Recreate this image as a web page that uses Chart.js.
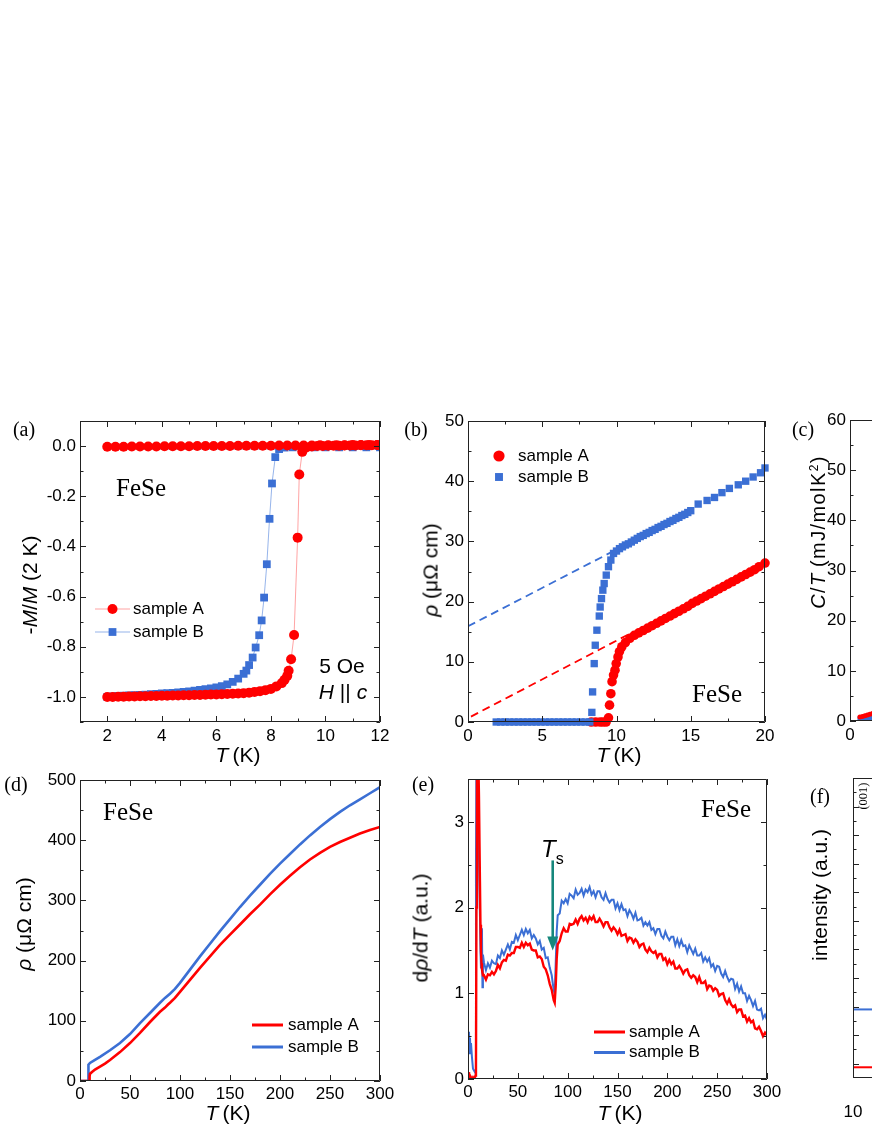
<!DOCTYPE html>
<html>
<head>
<meta charset="utf-8">
<script src="https://cdn.jsdelivr.net/npm/chart.js@4.4.1/dist/chart.umd.min.js"></script>
<style>
  html, body { margin: 0; padding: 0; background: #fff; overflow: hidden; }
  body { width: 872px; height: 1128px; position: relative; }
  canvas { position: absolute; left: 0; top: 0; }
  .t { position: absolute; transform: translate(-50%, -50%); white-space: nowrap; line-height: 1; color: #000;
       font-family: 'Liberation Sans', Arial, sans-serif; font-size: 21px; }
  .serif { font-family: 'Liberation Serif', 'Times New Roman', serif; }
  .rot { transform: translate(-50%, -50%) rotate(-90deg); }
</style>
</head>
<body>
<canvas id="chartA" width="872" height="1128"></canvas>
<canvas id="chartB" width="872" height="1128"></canvas>
<canvas id="chartC" width="1200" height="1128"></canvas>
<canvas id="chartD" width="872" height="1128"></canvas>
<canvas id="chartE" width="872" height="1128"></canvas>
<canvas id="chartF" width="1200" height="1128"></canvas>

<!-- panel labels -->
<div class="t serif" style="left:24px;top:429px;font-size:20px">(a)</div>
<div class="t serif" style="left:416px;top:429px;font-size:20px">(b)</div>
<div class="t serif" style="left:803px;top:429px;font-size:20px">(c)</div>
<div class="t serif" style="left:16px;top:784px;font-size:20px">(d)</div>
<div class="t serif" style="left:423px;top:784px;font-size:20px">(e)</div>
<div class="t serif" style="left:820px;top:796px;font-size:20px">(f)</div>

<!-- annotations -->
<div class="t serif" style="left:141px;top:487px;font-size:25px">FeSe</div>
<div class="t serif" style="left:717px;top:693px;font-size:25px">FeSe</div>
<div class="t serif" style="left:128px;top:811px;font-size:25px">FeSe</div>
<div class="t serif" style="left:726px;top:808px;font-size:25px">FeSe</div>
<div class="t" style="left:342px;top:665px">5 Oe</div>
<div class="t" style="left:343px;top:691px"><i>H</i> || <i>c</i></div>
<div style="position:absolute;left:541px;top:837px;line-height:1;white-space:nowrap;font-family:'Liberation Sans',Arial,sans-serif"><span style="font-style:italic;font-size:24px">T</span><span style="font-size:16px;position:relative;top:7px">s</span></div>
<div class="t serif rot" style="left:863px;top:796px;font-size:12.5px">(001)</div>

<!-- axis titles -->
<div class="t" style="left:238px;top:754px"><i>T</i>&thinsp;(K)</div>
<div class="t" style="left:619px;top:754px"><i>T</i>&thinsp;(K)</div>
<div class="t" style="left:228px;top:1112px"><i>T</i>&thinsp;(K)</div>
<div class="t" style="left:620px;top:1112px"><i>T</i>&thinsp;(K)</div>
<div class="t rot" style="left:29px;top:585px">-<i>M</i>/<i>M</i> (2 K)</div>
<div class="t rot" style="left:430px;top:570px"><i>ρ</i> (μΩ cm)</div>
<div class="t rot" style="left:818px;top:532px;font-size:20px;letter-spacing:1.4px"><i>C</i>/<i>T</i>&thinsp;(mJ/molK<sup style="font-size:12px">2</sup>)</div>
<div class="t rot" style="left:23px;top:924px"><i>ρ</i> (μΩ cm)</div>
<div class="t rot" style="left:420px;top:928px">d<i>ρ</i>/d<i>T</i> (a.u.)</div>
<div class="t rot" style="left:819px;top:895px">intensity (a.u.)</div>

<script>
// ---------- data ----------
const RED = '#ff0000';
const BLUE = '#3b6fd4';

// (a) normalized magnetization
const aTempAlow = [2.0, 2.2, 2.4, 2.6, 2.8, 3.0, 3.2, 3.4, 3.6, 3.8, 4.0, 4.2, 4.4, 4.6, 4.8, 5.0, 5.2, 5.4, 5.6, 5.8,
  6.0, 6.2, 6.4, 6.6, 6.8, 7.0, 7.2, 7.4, 7.6, 7.8, 8.0, 8.2, 8.4, 8.5, 8.6, 8.65, 8.74, 8.85, 8.98, 9.04, 9.15, 9.3,
  9.5, 9.7, 9.9, 10.1, 10.3, 10.5, 10.7, 10.9, 11.1, 11.3, 11.5, 11.7, 11.9];
const aMagAlow = [-1.000, -1.000, -0.999, -0.999, -0.998, -0.998, -0.997, -0.997, -0.996, -0.996, -0.995, -0.995, -0.994,
  -0.994, -0.993, -0.993, -0.992, -0.992, -0.991, -0.990, -0.990, -0.989, -0.988, -0.987, -0.986, -0.985, -0.983, -0.980,
  -0.977, -0.973, -0.968, -0.958, -0.945, -0.932, -0.916, -0.896, -0.850, -0.753, -0.365, -0.113, -0.023, -0.006,
  -0.002, 0.000, 0.000, 0.001, 0.001, 0.001, 0.002, 0.002, 0.002, 0.003, 0.003, 0.003, 0.004];
const aTempAup = [2.0, 2.3, 2.6, 2.9, 3.2, 3.5, 3.8, 4.1, 4.4, 4.7, 5.0, 5.3, 5.6, 5.9, 6.2, 6.5, 6.8, 7.1, 7.4, 7.7,
  8.0, 8.3, 8.6, 8.9, 9.2, 9.5, 9.8, 10.1, 10.4, 10.7, 11.0, 11.3, 11.6, 11.9];
const aMagAup = [-0.003, -0.003, -0.003, -0.002, -0.002, -0.002, -0.002, -0.001, -0.001, -0.001, -0.001, 0.000, 0.000,
  0.000, 0.000, 0.000, 0.001, 0.001, 0.001, 0.001, 0.001, 0.002, 0.002, 0.002, 0.002, 0.002, 0.003, 0.003, 0.003,
  0.003, 0.004, 0.004, 0.004, 0.004];
const aTempBlow = [2.0, 2.2, 2.4, 2.6, 2.8, 3.0, 3.2, 3.4, 3.6, 3.8, 4.0, 4.2, 4.4, 4.6, 4.8, 5.0, 5.2, 5.4, 5.6, 5.8,
  6.0, 6.2, 6.4, 6.6, 6.8, 7.0, 7.1, 7.2, 7.33, 7.44, 7.57, 7.66, 7.75, 7.85, 7.95, 8.04, 8.16, 8.3, 8.5, 8.8, 9.2,
  9.6, 10.0, 10.5, 11.0, 11.5, 12.0];
const aMagBlow = [-1.000, -0.998, -0.996, -0.995, -0.994, -0.993, -0.992, -0.991, -0.989, -0.988, -0.986, -0.985, -0.984,
  -0.982, -0.980, -0.978, -0.975, -0.972, -0.969, -0.966, -0.962, -0.957, -0.950, -0.940, -0.927, -0.908, -0.895,
  -0.873, -0.843, -0.803, -0.754, -0.695, -0.604, -0.471, -0.290, -0.149, -0.044, -0.012, -0.006, -0.005, -0.005,
  -0.005, -0.005, -0.005, -0.005, -0.005, -0.005];
const aTempBup = [2.0, 3.0, 4.0, 5.0, 6.0, 7.0, 8.0, 9.0, 10.0, 11.0, 12.0];
const aMagBup = [-0.012, -0.012, -0.012, -0.012, -0.012, -0.012, -0.012, -0.012, -0.012, -0.012, -0.012];
const aXTicks = [2, 4, 6, 8, 10, 12];
const aXMinor = [1, 3, 5, 7, 9, 11];
const aYTicks = [-1.0, -0.8, -0.6, -0.4, -0.2, 0.0];
const aYMinor = [-1.1, -0.9, -0.7, -0.5, -0.3, -0.1, 0.1];

// (b) low-temperature resistivity
const bTempA = [8.3, 8.6, 8.9, 9.1, 9.3,
  9.46, 9.53, 9.62, 9.7, 9.8, 9.9, 9.98, 10.1, 10.2, 10.36, 10.6, 10.9,
  11.2, 11.5, 11.8, 12.1, 12.4, 12.7, 13.0, 13.3, 13.6, 13.9, 14.2, 14.5, 14.8, 15.1, 15.4, 15.7, 16.0, 16.3, 16.6,
  16.9, 17.2, 17.5, 17.8, 18.1, 18.4, 18.7, 19.0, 19.3, 19.6, 20.0];
const bRhoA = [0, 0, 0, 0, 0,
  0.7, 2.8, 4.7, 6.7, 7.8, 8.6, 9.7, 10.8, 11.7, 12.5, 13.2, 13.9,
  14.4, 14.8, 15.2, 15.6, 16.0, 16.4, 16.8, 17.2, 17.6, 18.0, 18.4, 18.8, 19.2, 19.7, 20.1, 20.5, 20.9, 21.3, 21.7,
  22.1, 22.5, 22.9, 23.3, 23.7, 24.1, 24.5, 24.9, 25.3, 25.8, 26.4];
const bTempB = [1.9, 2.2, 2.5, 2.8, 3.1, 3.4, 3.7, 4.0, 4.3, 4.6, 4.9, 5.2, 5.5, 5.8, 6.1, 6.4, 6.7, 7.0, 7.3, 7.6, 7.9, 8.2,
  8.34, 8.39, 8.5, 8.57, 8.68, 8.84, 8.9, 8.99, 9.08, 9.17, 9.31, 9.46, 9.62,
  9.8, 10.0, 10.2, 10.4, 10.6, 10.8, 11.0, 11.2, 11.4, 11.6, 11.8, 12.0, 12.2, 12.4, 12.6, 12.8, 13.0, 13.2, 13.4,
  13.6, 13.8, 14.0, 14.2, 14.4, 14.6, 14.8, 15.0,
  15.5, 16.1, 16.6, 17.1, 17.6, 18.2, 18.7, 19.2, 19.7, 20.0];
const bRhoB = [0, 0, 0, 0, 0, 0, 0, 0, 0, 0, 0, 0, 0, 0, 0, 0, 0, 0, 0, 0, 0, 0,
  1.6, 5.0, 9.7, 12.75, 15.25, 17.6, 19.1, 20.5, 21.9, 23.0, 24.4, 25.8, 26.9,
  28.0, 28.4, 28.8, 29.1, 29.4, 29.6, 29.9, 30.2, 30.5, 30.8, 31.0, 31.3, 31.5, 31.8, 32.0, 32.3, 32.5, 32.8, 33.0,
  33.3, 33.5, 33.8, 34.0, 34.3, 34.5, 34.8, 35.1,
  36.2, 36.8, 37.3, 38.1, 38.8, 39.4, 40.0, 40.7, 41.4, 42.2];
const bFitTempA = [0.2, 11.0];
const bFitRhoA = [0.9, 14.8];
const bFitTempB = [0.0, 9.8];
const bFitRhoB = [15.9, 28.4];
const bXTicks = [0, 5, 10, 15, 20];
const bXMinor = [2.5, 7.5, 12.5, 17.5];
const bYTicks = [0, 10, 20, 30, 40, 50];
const bYMinor = [5, 15, 25, 35, 45];

// (c) specific heat (only the low-T corner is visible)
const cTemp = [0.4, 0.5, 0.6, 0.7, 0.8, 0.9, 1.0, 1.2, 1.4];
const cHeatA = [0.8, 0.9, 1.05, 1.2, 1.35, 1.5, 1.65, 1.95, 2.3];
const cHeatB = [0.4, 0.45, 0.5, 0.6, 0.65, 0.75, 0.85, 1.0, 1.2];
const cXTicks = [0, 2, 4, 6, 8, 10, 12];
const cYTicks = [0, 10, 20, 30, 40, 50, 60];
const cYMinor = [5, 15, 25, 35, 45, 55];

// (d) resistivity up to 300 K
const dTempA = [0, 9.3, 9.6, 10, 12, 15, 20, 25, 30, 40, 50, 60, 70, 80, 85, 88, 90, 95, 100, 110, 120, 130, 140, 150,
  160, 170, 180, 190, 200, 210, 220, 230, 240, 250, 260, 270, 280, 290, 300];
const dRhoA = [0, 0, 8, 12, 15, 19, 24, 29, 35, 48, 63, 80, 98, 115, 122, 127, 130, 138, 148, 168, 188, 207, 226, 243,
  260, 277, 293, 310, 326, 341, 355, 368, 379, 389, 397, 404, 411, 417, 422];
const dTempB = [0, 8, 8.3, 8.6, 10, 15, 20, 30, 40, 50, 60, 70, 80, 85, 90, 95, 100, 110, 120, 130, 140, 150, 160, 170,
  180, 190, 200, 210, 220, 230, 240, 250, 260, 270, 280, 290, 300];
const dRhoB = [0, 0, 15, 27, 30, 35, 40, 51, 63, 78, 96, 113, 130, 138, 145, 153, 163, 185, 207, 228, 249, 269, 289, 308,
  326, 344, 361, 377, 393, 408, 422, 435, 447, 458, 468, 478, 488];
const dXTicks = [0, 50, 100, 150, 200, 250, 300];
const dXMinor = [25, 75, 125, 175, 225, 275];
const dYTicks = [0, 100, 200, 300, 400, 500];
const dYMinor = [50, 150, 250, 350, 450];

// (e) derivative drho/dT
const eLowTemp = [0.5, 1, 1.5, 2, 2.5, 3, 4, 5, 6, 7, 7.5, 8, 8.5, 9, 10, 11, 12, 12.5, 13, 13.5, 14, 14.5, 15];
const eLowA = [0.00, 0.08, 0.00, 0.03, 0.00, 0.02, 0.00, 0.02, 0.00, 0.02, 0.04, 0.10, 2.00, 4.00, 4.00, 3.30, 2.30,
  1.80, 1.50, 1.35, 1.28, 1.24, 1.21];
const eLowB = [0.30, 0.55, 0.35, 0.48, 0.30, 0.42, 0.25, 0.12, 0.10, 0.08, 0.10, 2.50, 4.00, 4.00, 3.50, 2.60, 1.90,
  1.50, 1.30, 1.30, 1.76, 1.07, 1.45];
const eTemp = [16, 18, 20, 22, 24, 26, 28, 30, 32, 34, 36, 38, 40, 42, 44, 46, 48, 50, 52, 54, 56, 58, 60, 62, 64, 66,
  68, 70, 72, 74, 76, 78, 80, 82, 84, 85, 86, 87, 88, 89, 90, 92, 94, 96, 98, 100, 102, 104, 106, 108, 110, 112, 114,
  116, 118, 120, 122, 124, 126, 128, 130, 132, 134, 136, 138, 140, 142, 144, 146, 148, 150, 152, 154, 156, 158, 160,
  162, 164, 166, 168, 170, 172, 174, 176, 178, 180, 182, 184, 186, 188, 190, 192, 194, 196, 198, 200, 202, 204, 206,
  208, 210, 212, 214, 216, 218, 220, 222, 224, 226, 228, 230, 232, 234, 236, 238, 240, 242, 244, 246, 248, 250, 252,
  254, 256, 258, 260, 262, 264, 266, 268, 270, 272, 274, 276, 278, 280, 282, 284, 286, 288, 290, 292, 294, 296, 298, 300];
const eDerivA = [1.21, 1.16, 1.22, 1.21, 1.25, 1.22, 1.26, 1.33, 1.29, 1.36, 1.39, 1.38, 1.45, 1.44, 1.47, 1.47, 1.54,
  1.54, 1.53, 1.59, 1.54, 1.59, 1.56, 1.58, 1.51, 1.50, 1.50, 1.42, 1.43, 1.40, 1.31, 1.28, 1.21, 1.11, 1.04,
  0.98, 0.92, 0.89, 1.08, 1.40,
  1.57, 1.61, 1.70, 1.76, 1.72, 1.72, 1.81, 1.80, 1.81, 1.86, 1.81, 1.87, 1.90, 1.85, 1.88, 1.83, 1.89, 1.86, 1.90,
  1.83, 1.83, 1.87, 1.83, 1.78, 1.83, 1.83, 1.77, 1.73, 1.77, 1.74, 1.69, 1.74, 1.67, 1.68, 1.69, 1.61, 1.65, 1.64,
  1.59, 1.63, 1.60, 1.54, 1.57, 1.58, 1.51, 1.48, 1.53, 1.49, 1.47, 1.49, 1.42, 1.46, 1.46, 1.39, 1.41, 1.34, 1.39,
  1.34, 1.37, 1.29, 1.29, 1.32, 1.28, 1.23, 1.27, 1.28, 1.21, 1.18, 1.21, 1.19, 1.13, 1.19, 1.12, 1.12, 1.14, 1.05,
  1.09, 1.08, 1.03, 1.06, 1.04, 0.97, 0.99, 1.00, 0.92, 0.88, 0.93, 0.87, 0.84, 0.86, 0.78, 0.81, 0.81, 0.73, 0.74,
  0.67, 0.71, 0.66, 0.68, 0.59, 0.58, 0.61, 0.56, 0.50, 0.54, 0.51];
const eDerivB = [1.36, 1.27, 1.35, 1.30, 1.38, 1.35, 1.34, 1.44, 1.41, 1.50, 1.45, 1.51, 1.57, 1.51, 1.60, 1.59, 1.68,
  1.62, 1.68, 1.74, 1.68, 1.75, 1.70, 1.74, 1.64, 1.68, 1.64, 1.57, 1.61, 1.51, 1.53, 1.41, 1.42, 1.30, 1.21,
  1.12, 1.04, 0.99, 1.35, 1.72,
  1.91, 1.93, 2.08, 2.05, 2.10, 2.05, 2.16, 2.14, 2.11, 2.21, 2.15, 2.17, 2.22, 2.14, 2.21, 2.18, 2.24, 2.15, 2.19,
  2.12, 2.19, 2.19, 2.12, 2.09, 2.17, 2.10, 2.06, 2.09, 2.09, 1.99, 2.05, 1.97, 2.04, 1.97, 1.98, 1.90, 1.97, 1.93,
  1.87, 1.94, 1.85, 1.86, 1.88, 1.79, 1.83, 1.79, 1.83, 1.74, 1.76, 1.69, 1.75, 1.75, 1.67, 1.64, 1.72, 1.66, 1.62,
  1.66, 1.66, 1.56, 1.63, 1.55, 1.62, 1.55, 1.56, 1.48, 1.56, 1.51, 1.46, 1.52, 1.44, 1.44, 1.47, 1.37, 1.42, 1.37,
  1.41, 1.31, 1.34, 1.26, 1.32, 1.31, 1.23, 1.19, 1.26, 1.19, 1.14, 1.17, 1.16, 1.05, 1.11, 1.02, 1.08, 1.00, 1.00,
  0.91, 0.97, 0.92, 0.85, 0.91, 0.81, 0.80, 0.82, 0.71, 0.75, 0.69];
const eYTicks = [0, 1, 2, 3];
const eYMinor = [0.5, 1.5, 2.5];
const tsArrow = { t: 85, from: 2.55, to: 1.5 };

// (f) x-ray diffraction (only the left edge is visible)
const fAngle = [10, 12, 14];
const fIntA = [0.75, 0.75, 0.75];
const fIntB = [4.8, 4.8, 4.8];
const fXTicks = [10, 20, 30, 40, 50, 60, 70];
const fYMajor = [1, 3, 5, 7, 9, 11, 13, 15, 17, 19];
const fYMinor = [2, 4, 6, 8, 10, 12, 14, 16, 18, 20];

// ---------- helpers ----------
Chart.defaults.font.family = "'Liberation Sans', Arial, sans-serif";
Chart.defaults.font.size = 17;
Chart.defaults.color = '#000';

const pts = (xs, ys) => xs.map((x, i) => ({ x, y: ys[i] }));

// box frame with inward ticks on all four sides
const frameTicks = {
  id: 'frameTicks',
  afterDatasetsDraw(chart, args, o) {
    if (!o || !o.show) return;
    const { ctx, chartArea: a, scales: { x, y } } = chart;
    ctx.save();
    ctx.strokeStyle = '#222';
    ctx.lineWidth = 1;
    ctx.beginPath();
    ctx.rect(a.left + 0.5, a.top + 0.5, a.right - a.left - 1, a.bottom - a.top - 1);
    const mark = (vals, len, horiz) => (vals || []).forEach(v => {
      if (horiz) {
        const px = Math.round(x.getPixelForValue(v)) + 0.5;
        ctx.moveTo(px, a.bottom); ctx.lineTo(px, a.bottom - len);
        ctx.moveTo(px, a.top); ctx.lineTo(px, a.top + len);
      } else {
        const py = Math.round(y.getPixelForValue(v)) + 0.5;
        ctx.moveTo(a.left, py); ctx.lineTo(a.left + len, py);
        ctx.moveTo(a.right, py); ctx.lineTo(a.right - len, py);
      }
    });
    mark(o.xMajor, 6, true);
    mark(o.xMinor, 3.5, true);
    mark(o.yMajor, 6, false);
    mark(o.yMinor, 3.5, false);
    ctx.stroke();
    ctx.restore();
  }
};

function marker(ctx, style, r, cx, cy) {
  ctx.beginPath();
  if (style === 'rect') {
    const s = r * Math.SQRT1_2;
    ctx.rect(cx - s, cy - s, 2 * s, 2 * s);
  } else {
    ctx.arc(cx, cy, r, 0, Math.PI * 2);
  }
  ctx.fill();
}

// hand-placed legend
const keyBox = {
  id: 'keyBox',
  afterDraw(chart, args, o) {
    if (!o || !o.items) return;
    const ctx = chart.ctx;
    ctx.save();
    o.items.forEach((it, i) => {
      const ds = chart.data.datasets[it.ds];
      const yy = o.y + i * o.rowH;
      if (o.line) {
        ctx.strokeStyle = ds.borderColor;
        ctx.lineWidth = o.lineWidth || ds.borderWidth;
        ctx.beginPath(); ctx.moveTo(o.x, yy); ctx.lineTo(o.x + o.len, yy); ctx.stroke();
      }
      if (o.marker) {
        ctx.fillStyle = ds.pointBackgroundColor;
        marker(ctx, ds.pointStyle, o.markerR || ds.pointRadius, o.x + o.len / 2, yy);
      }
      ctx.fillStyle = '#000';
      ctx.font = "17px 'Liberation Sans', Arial, sans-serif";
      ctx.textBaseline = 'middle';
      ctx.textAlign = 'left';
      ctx.fillText(it.label, o.x + o.len + o.gap, yy);
    });
    ctx.restore();
  }
};

Chart.register(frameTicks, keyBox);

function axis(min, max, labels, opts) {
  opts = opts || {};
  return {
    type: opts.type || 'linear', min, max,
    grid: { display: false, drawTicks: false },
    border: { display: false },
    afterBuildTicks: s => { s.ticks = labels.map(v => ({ value: v })); },
    afterFit: s => { if (opts.horiz) s.height = opts.size; else s.width = opts.size; },
    ticks: {
      display: opts.show !== false, padding: opts.pad, autoSkip: false, maxRotation: 0,
      callback: opts.fmt || (v => String(v))
    }
  };
}

function makeChart(id, box, datasets, scales, frame, key, extra) {
  const cv = document.getElementById(id);
  return new Chart(cv, {
    type: 'scatter',
    data: { datasets },
    options: {
      responsive: false, animation: false, devicePixelRatio: 1,
      layout: { padding: { left: box.left - box.yw, top: box.top, right: cv.width - box.right, bottom: cv.height - box.bottom - box.xh } },
      plugins: { legend: { display: false }, tooltip: { enabled: false }, frameTicks: Object.assign({ show: true }, frame), keyBox: key || {} },
      scales
    },
    plugins: extra || []
  });
}

function dots(data, color, style, r, line, clip) {
  return {
    data, showLine: !!line, borderColor: line || color, borderWidth: 1,
    pointStyle: style, pointRadius: r, pointBackgroundColor: color, pointBorderWidth: 0, pointBorderColor: color,
    clip: clip
  };
}
function curve(data, color, w, clip) {
  return { data, showLine: true, borderColor: color, borderWidth: w, pointRadius: 0, clip: clip };
}

// ---------- (a) ----------
makeChart('chartA', { left: 80, right: 380, top: 421, bottom: 722, yw: 60, xh: 30 }, [
  dots(pts(aTempAlow, aMagAlow), RED, 'circle', 5, 'rgba(255,90,90,0.55)'),
  dots(pts(aTempAup, aMagAup), RED, 'circle', 5, 'rgba(255,90,90,0.55)'),
  dots(pts(aTempBlow, aMagBlow), BLUE, 'rect', 5.5, 'rgba(80,130,220,0.6)'),
  curve(pts(aTempBup, aMagBup), 'rgba(80,130,220,0.7)', 1)
], {
  x: axis(1, 12, aXTicks, { horiz: true, size: 30, pad: 4 }),
  y: axis(-1.1, 0.1, aYTicks, { size: 60, pad: 4, fmt: v => v.toFixed(1) })
}, { xMajor: aXTicks, xMinor: aXMinor, yMajor: aYTicks, yMinor: aYMinor },
{ x: 95, y: 609, rowH: 23, len: 35, gap: 3, line: true, marker: true, lineWidth: 1.2,
  items: [{ ds: 0, label: 'sample A' }, { ds: 2, label: 'sample B' }] });

// ---------- (b) ----------
makeChart('chartB', { left: 468, right: 765, top: 421, bottom: 722, yw: 50, xh: 30 }, [
  dots(pts(bTempB, bRhoB), BLUE, 'rect', 5.2, null, false),
  dots(pts(bTempA, bRhoA), RED, 'circle', 4.8, null, false),
  Object.assign(curve(pts(bFitTempB, bFitRhoB), BLUE, 1.8), { borderDash: [8, 5] }),
  Object.assign(curve(pts(bFitTempA, bFitRhoA), RED, 1.8), { borderDash: [8, 5] })
], {
  x: axis(0, 20, bXTicks, { horiz: true, size: 30, pad: 4 }),
  y: axis(0, 50, bYTicks, { size: 50, pad: 4 })
}, { xMajor: bXTicks, xMinor: bXMinor, yMajor: bYTicks, yMinor: bYMinor },
{ x: 489, y: 456, rowH: 21, len: 20, gap: 9, line: false, marker: true, markerR: 5.6,
  items: [{ ds: 1, label: 'sample A' }, { ds: 0, label: 'sample B' }] });

// ---------- (c) ----------
makeChart('chartC', { left: 850, right: 1148, top: 420, bottom: 721, yw: 50, xh: 30 }, [
  dots(pts(cTemp, cHeatA), RED, 'circle', 2.5),
  dots(pts(cTemp, cHeatB), BLUE, 'rect', 3.5)
], {
  x: axis(0, 12, cXTicks, { horiz: true, size: 30, pad: 4 }),
  y: axis(0, 60, cYTicks, { size: 50, pad: 4 })
}, { xMajor: cXTicks, yMajor: cYTicks, yMinor: cYMinor });

// ---------- (d) ----------
makeChart('chartD', { left: 80, right: 380, top: 780, bottom: 1081, yw: 60, xh: 30 }, [
  curve(pts(dTempA, dRhoA), RED, 2.6),
  curve(pts(dTempB, dRhoB), BLUE, 2.6)
], {
  x: axis(0, 300, dXTicks, { horiz: true, size: 30, pad: 3 }),
  y: axis(0, 500, dYTicks, { size: 60, pad: 4 })
}, { xMajor: dXTicks, xMinor: dXMinor, yMajor: dYTicks, yMinor: dYMinor },
{ x: 252, y: 1025, rowH: 22, len: 31, gap: 5, line: true, lineWidth: 3,
  items: [{ ds: 0, label: 'sample A' }, { ds: 1, label: 'sample B' }] });

// ---------- (e) ----------
const arrowPlugin = {
  id: 'tsArrow',
  afterDatasetsDraw(chart) {
    const { ctx, scales: { x, y } } = chart;
    const px = x.getPixelForValue(tsArrow.t);
    const y0 = y.getPixelForValue(tsArrow.from);
    const y1 = y.getPixelForValue(tsArrow.to);
    ctx.save();
    ctx.strokeStyle = '#16877c';
    ctx.fillStyle = '#16877c';
    ctx.lineWidth = 2.6;
    ctx.beginPath(); ctx.moveTo(px, y0); ctx.lineTo(px, y1 - 11); ctx.stroke();
    ctx.beginPath(); ctx.moveTo(px - 5.5, y1 - 14); ctx.lineTo(px + 5.5, y1 - 14); ctx.lineTo(px, y1); ctx.closePath(); ctx.fill();
    ctx.restore();
  }
};
makeChart('chartE', { left: 468, right: 767, top: 779, bottom: 1079, yw: 50, xh: 30 }, [
  curve(pts(eLowTemp.concat(eTemp), eLowA.concat(eDerivA)), RED, 2.4),
  curve(pts(eLowTemp.concat(eTemp), eLowB.concat(eDerivB)), BLUE, 2)
], {
  x: axis(0, 300, dXTicks, { horiz: true, size: 30, pad: 3 }),
  y: axis(0, 3.5, eYTicks, { size: 50, pad: 4 })
}, { xMajor: dXTicks, xMinor: dXMinor, yMajor: eYTicks, yMinor: eYMinor },
{ x: 594, y: 1032, rowH: 20.5, len: 31, gap: 4, line: true, lineWidth: 3,
  items: [{ ds: 0, label: 'sample A' }, { ds: 1, label: 'sample B' }] }, [arrowPlugin]);

// ---------- (f) ----------
makeChart('chartF', { left: 853, right: 1150, top: 778, bottom: 1078, yw: 40, xh: 40 }, [
  curve(pts(fAngle, fIntA), RED, 2),
  curve(pts(fAngle, fIntB), BLUE, 2)
], {
  x: axis(10, 70, fXTicks, { horiz: true, size: 40, pad: 24 }),
  y: axis(0, 21, fYMajor, { size: 40, pad: 4, show: false })
}, { xMajor: fXTicks, yMajor: fYMajor, yMinor: fYMinor });
</script>
</body>
</html>
